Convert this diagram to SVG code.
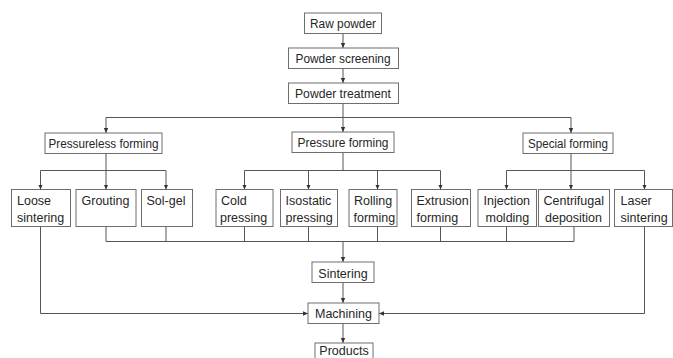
<svg xmlns="http://www.w3.org/2000/svg" width="673" height="358" viewBox="0 0 673 358">
<style>
.box{fill:#fff;stroke:#6e6e6e;stroke-width:1}
.t{font-family:"Liberation Sans",Arial,sans-serif;font-size:12.5px;fill:#262626}
.c{text-anchor:middle}
.ln{fill:none;stroke:#555;stroke-width:1}
.ar{fill:none;stroke:#555;stroke-width:1;marker-end:url(#ah)}
</style>
<defs>
<marker id="ah" markerUnits="userSpaceOnUse" markerWidth="6" markerHeight="6" refX="5" refY="3" orient="auto">
<path d="M0,0.8 L5,3 L0,5.2 Z" fill="#333"/>
</marker>
</defs>
<rect width="673" height="358" fill="#fff"/>
<g id="connectors">
<path class="ar" d="M343,33.5 V48"/>
<path class="ar" d="M343,68.5 V83"/>
<path class="ln" d="M343,103.5 V117.5 M106,117.5 H571"/>
<path class="ar" d="M106,117.5 V133"/>
<path class="ar" d="M343,117.5 V132"/>
<path class="ar" d="M571,117.5 V133"/>
<path class="ln" d="M106,153.5 V170.5 M40.5,170.5 H166"/>
<path class="ar" d="M40.5,170.5 V189.5"/>
<path class="ar" d="M106,170.5 V189.5"/>
<path class="ar" d="M166,170.5 V189.5"/>
<path class="ln" d="M343,152.5 V170.5 M244.5,170.5 H440.5"/>
<path class="ar" d="M244.5,170.5 V189.5"/>
<path class="ar" d="M308.5,170.5 V189.5"/>
<path class="ar" d="M377.5,170.5 V189.5"/>
<path class="ar" d="M440.5,170.5 V189.5"/>
<path class="ln" d="M571,153.5 V170.5 M506.5,170.5 H644.5"/>
<path class="ar" d="M506.5,170.5 V189.5"/>
<path class="ar" d="M571,170.5 V189.5"/>
<path class="ar" d="M644.5,170.5 V189.5"/>
<path class="ln" d="M106,226.5 V241.5 M166,226.5 V241.5 M244.5,226.5 V241.5 M308.5,226.5 V241.5 M377.5,226.5 V241.5 M440.5,226.5 V241.5 M506.5,226.5 V241.5 M574,226.5 V241.5 M106,241.5 H574"/>
<path class="ar" d="M343,241.5 V262"/>
<path class="ar" d="M343,282.5 V303"/>
<path class="ar" d="M343,323.5 V343"/>
<path class="ar" d="M40.5,226.5 V313.5 H308"/>
<path class="ar" d="M644.5,226.5 V313.5 H379"/>
</g>
<g id="raw-powder"><rect class="box" x="304.5" y="13" width="77" height="20.5"/><text class="t c" x="343" y="27.5" textLength="66" lengthAdjust="spacingAndGlyphs">Raw powder</text></g>
<g id="powder-screening"><rect class="box" x="288.5" y="48" width="110" height="20.5"/><text class="t c" x="343" y="62.5" textLength="95" lengthAdjust="spacingAndGlyphs">Powder screening</text></g>
<g id="powder-treatment"><rect class="box" x="288.5" y="83" width="110" height="20.5"/><text class="t c" x="343" y="97.5" textLength="96" lengthAdjust="spacingAndGlyphs">Powder treatment</text></g>
<g id="pressureless-forming"><rect class="box" x="45" y="133" width="117" height="20.5"/><text class="t c" x="103.5" y="147.5" textLength="110" lengthAdjust="spacingAndGlyphs">Pressureless forming</text></g>
<g id="pressure-forming"><rect class="box" x="292" y="132" width="102" height="20.5"/><text class="t c" x="343" y="146.5" textLength="91" lengthAdjust="spacingAndGlyphs">Pressure forming</text></g>
<g id="special-forming"><rect class="box" x="523" y="133" width="90" height="20.5"/><text class="t c" x="568" y="147.5" textLength="80" lengthAdjust="spacingAndGlyphs">Special forming</text></g>
<g id="loose-sintering"><rect class="box" x="11.5" y="189.5" width="59" height="37"/><text class="t" x="17" y="205">Loose</text><text class="t" x="17" y="221.8">sintering</text></g>
<g id="grouting"><rect class="box" x="76" y="189.5" width="60" height="37"/><text class="t" x="81.5" y="205">Grouting</text></g>
<g id="sol-gel"><rect class="box" x="141.5" y="189.5" width="51" height="37"/><text class="t" x="146.5" y="205">Sol-gel</text></g>
<g id="cold-pressing"><rect class="box" x="216" y="189.5" width="57" height="37"/><text class="t" x="221" y="205">Cold</text><text class="t" x="220" y="221.8">pressing</text></g>
<g id="isostatic-pressing"><rect class="box" x="280.5" y="189.5" width="57" height="37"/><text class="t" x="285.5" y="205">Isostatic</text><text class="t" x="285.5" y="221.8">pressing</text></g>
<g id="rolling-forming"><rect class="box" x="349" y="189.5" width="48" height="37"/><text class="t" x="354" y="205">Rolling</text><text class="t" x="353.5" y="221.8">forming</text></g>
<g id="extrusion-forming"><rect class="box" x="411.5" y="189.5" width="59" height="37"/><text class="t" x="416.5" y="205">Extrusion</text><text class="t" x="416.5" y="221.8">forming</text></g>
<g id="injection-molding"><rect class="box" x="478" y="189.5" width="58.5" height="37"/><text class="t" x="483.5" y="205">Injection</text><text class="t" x="485.5" y="221.8">molding</text></g>
<g id="centrifugal-deposition"><rect class="box" x="538.5" y="189.5" width="71" height="37"/><text class="t" x="543.5" y="205">Centrifugal</text><text class="t" x="545" y="221.8">deposition</text></g>
<g id="laser-sintering"><rect class="box" x="614.5" y="189.5" width="58" height="37"/><text class="t" x="620.5" y="205">Laser</text><text class="t" x="620.5" y="221.8">sintering</text></g>
<g id="sintering"><rect class="box" x="312" y="262" width="62" height="20.5"/><text class="t c" x="343" y="277.5">Sintering</text></g>
<g id="machining"><rect class="box" x="308" y="303" width="71" height="20.5"/><text class="t c" x="343.5" y="317.8">Machining</text></g>
<g id="products"><rect class="box" x="315" y="343" width="58" height="22"/><text class="t c" x="344" y="355">Products</text></g>
</svg>
